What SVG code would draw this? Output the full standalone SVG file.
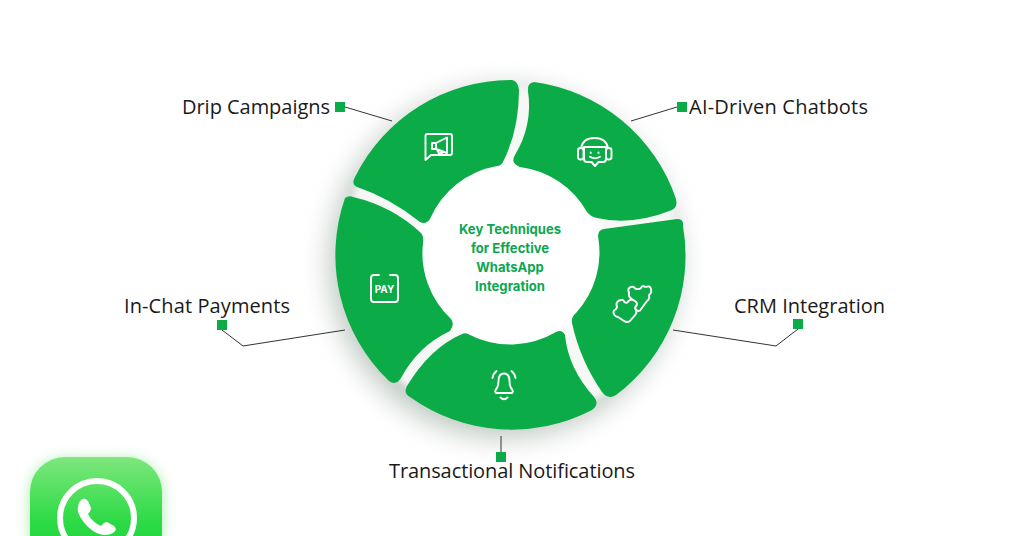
<svg xmlns="http://www.w3.org/2000/svg" width="1024" height="536" viewBox="0 0 1024 536">
<style>
.seg{fill:#0bab47}
.ic{fill:none;stroke:#fff;stroke-width:1.9;stroke-linecap:round;stroke-linejoin:round}
.lb{font-family:"Open Sans","Liberation Sans",sans-serif;font-size:20px;fill:#1a1a1a}
.ct{font-family:"Inter","Liberation Sans",sans-serif;font-size:13.1px;font-weight:700;fill:#0ca650;text-anchor:middle}
.sq{fill:#0bab47}
.ln{fill:none;stroke:#333;stroke-width:1}
</style>
<defs>
<filter id="sh" x="-30%" y="-30%" width="160%" height="160%"><feGaussianBlur stdDeviation="14"/></filter>
<filter id="gl" x="-30%" y="-30%" width="160%" height="160%"><feGaussianBlur stdDeviation="7"/></filter>
<filter id="sb" x="-10%" y="-10%" width="120%" height="120%"><feGaussianBlur stdDeviation="0.6"/></filter>
<filter id="wb" x="-10%" y="-10%" width="120%" height="120%"><feGaussianBlur stdDeviation="3"/></filter>
<linearGradient id="wa" x1="0" y1="0" x2="0" y2="1"><stop offset="0" stop-color="#7ee77c"/><stop offset="0.55" stop-color="#2bda45"/><stop offset="1" stop-color="#1fd23c"/></linearGradient>
</defs>
<rect width="1024" height="536" fill="#fff"/>
<circle cx="504" cy="263" r="174" fill="#84988a" opacity="0.55" filter="url(#sh)"/>
<circle cx="510.500" cy="254.500" r="168" fill="#f6f8f6" filter="url(#wb)"/>
<circle cx="510" cy="255" r="94" fill="#fff" filter="url(#wb)"/>
<g id="seg-drip"><path class="seg" d="M512 80Q518 81 519 90Q519 130 503 162Q501 166 497 166A90 90 0 0 0 430 219Q426 225 420 222Q390 198 357 187Q351 184 355 177A174.500 174.500 0 0 1 512 80Z"/>
<path class="ic" d="M425.500 160V136Q425.500 134 427.500 134H450Q452 134 452 136V153Q452 155 450 155H431Z"/>
<path class="ic" d="M432 149V143H436L447 137.500V153L436 149ZM436 143V149M437 149.500L439 153.500L443 152.500"/></g>
<g id="seg-chatbots"><path class="seg" d="M528 91Q527 83 534 82A174.500 174.500 0 0 1 676 199Q678 207 672 210Q632 226 597 218Q591 217 587 212A90 90 0 0 0 520 167Q510 163 515 155Q533 125 528 91Z"/>
<path class="ic" d="M581 148Q583 138 594.500 138Q606 138 608 148"/>
<rect class="ic" x="578" y="148" width="5.500" height="11.500" rx="2.500"/><rect class="ic" x="606" y="148" width="5.500" height="11.500" rx="2.500"/>
<path class="ic" d="M584 147H606V159Q606 162 603 162H598.500L595 166L591.500 162H587Q584 162 584 159Z"/>
<path class="ic" d="M590 156.800Q595 160 600 156.800"/><path class="ic" d="M590.700 152.500V153M598.500 152.500V153"/></g>
<g id="seg-crm"><path class="seg" d="M598 236Q598 230 604 229L677 219Q684 219 683 226A174.500 174.500 0 0 1 616 395Q608 400 602 392Q580 360 572 323Q571 317 576 313A90 90 0 0 0 598 236Z"/>
<path class="ic" d="M632 299Q628 297 629 292.500Q627 288 631 287Q634 286 635 288.500Q639 290 641 288Q642 285 646 287Q650 285 651 289Q652 293 649 295Q650 299 647 301L640 310.500Q638 312 636 309.500"/>
<path class="ic" d="M621 300Q623 299 624.500 302Q627 304 628.500 301Q631 298.500 635 301Q638 303 636.500 305.500Q634 308 636 310Q637 312.500 635.500 314.500L630 321Q627 323 624 321L618 317Q616 317 614.500 315Q612 311 615.500 309.500Q618 307 616.500 305.500Q616 301 621 300Z"/></g>
<g id="seg-notify"><path class="seg" d="M407 386Q430 348 462 334Q466 332 470 335A90 90 0 0 0 556 332Q562 329 565 335Q568 368 594 397Q600 404 592 410A174.500 174.500 0 0 1 410 397Q403 393 407 386Z"/>
<path class="ic" d="M496 393H512Q514 391 511 388Q509.500 385 509.500 381Q509.500 373.500 504 373.500Q498.500 373.500 498.500 381Q498.500 385 497 388Q494 391 496 393Z"/>
<path class="ic" d="M500.500 397.500Q504 401 507.500 397.500M492.500 378Q493 374 496.500 371M515.500 378Q515 374 511.500 371"/></g>
<g id="seg-pay"><path class="seg" d="M345 198Q349 195 353 197Q392 206 421 233Q424 236 423 243A90 90 0 0 0 451 319Q455 324 450 331Q418 346 401 378Q396 386 389 381A174.500 174.500 0 0 1 345 198Z"/>
<path class="ic" d="M379 275H374Q371 275 371 278V299Q371 302 374 302H395Q398 302 398 299V278Q398 275 395 275H390M379 302H390"/>
<text x="384.500" y="293" font-family="Inter,'Liberation Sans',sans-serif" font-size="10" font-weight="700" fill="#fff" text-anchor="middle">PAY</text></g>
<g id="center"><text class="ct" x="510" y="234">Key Techniques</text><text class="ct" x="510" y="253">for Effective</text><text class="ct" x="510" y="272">WhatsApp</text><text class="ct" x="510" y="291">Integration</text></g>
<g id="connectors">
<path class="ln" d="M345 107L392 121"/><path class="ln" d="M677 107L631 121"/><path class="ln" d="M222 330L243 346L345 330"/><path class="ln" d="M798 329L776 346L673 330"/><path class="ln" d="M501 436V452"/>
</g>
<g id="label-drip"><rect class="sq" x="335" y="102" width="10" height="10"/><text class="lb" x="182" y="113.500" textLength="148">Drip Campaigns</text></g>
<g id="label-ai"><rect class="sq" x="677" y="102" width="10" height="10"/><text class="lb" x="689" y="113.500" textLength="179">AI-Driven Chatbots</text></g>
<g id="label-pay"><rect class="sq" x="217" y="320" width="10" height="10"/><text class="lb" x="124" y="312.500" textLength="166">In-Chat Payments</text></g>
<g id="label-crm"><rect class="sq" x="793" y="319" width="10" height="10"/><text class="lb" x="734" y="312.500" textLength="151">CRM Integration</text></g>
<g id="label-notify"><rect class="sq" x="496" y="452" width="10" height="10"/><text class="lb" x="389" y="477.500" textLength="246">Transactional Notifications</text></g>
<g id="whatsapp">
<rect x="30" y="459" width="132" height="110" rx="34" fill="#55e060" opacity="0.5" filter="url(#gl)"/>
<rect x="30" y="457" width="132" height="120" rx="35" fill="url(#wa)"/>
<circle cx="97" cy="518" r="37" fill="none" stroke="#fff" stroke-width="6" filter="url(#sb)"/>
<path d="M80 501Q84 496 88 501L91 508Q91 511 88 514Q92 522 101 526Q104 522 107 522L114 526Q118 530 113 533Q104 538 93 531Q82 523 78 512Q77 505 80 501Z" fill="#fff" filter="url(#sb)"/>
</g>
</svg>
